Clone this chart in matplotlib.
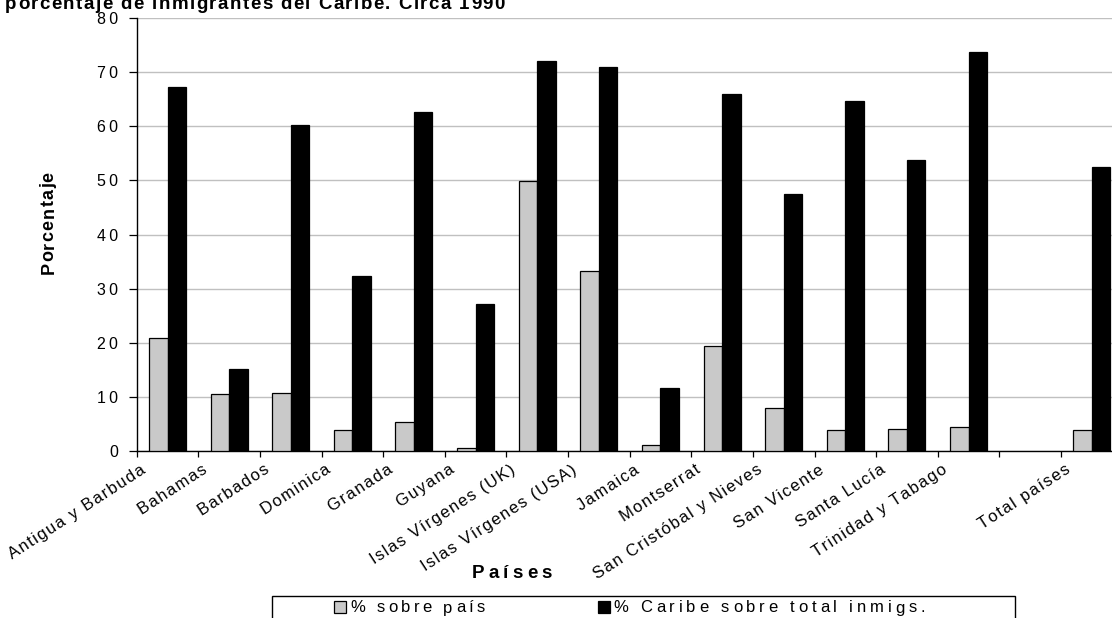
import numpy as np
import matplotlib
matplotlib.use("Agg")
import matplotlib.pyplot as plt
from matplotlib.transforms import ScaledTranslation
from matplotlib.patches import Rectangle
from matplotlib.font_manager import findfont, FontProperties
from matplotlib.ft2font import FT2Font

# ---- data -------------------------------------------------------------
categories = [
    "Antigua y Barbuda", "Bahamas", "Barbados", "Dominica", "Granada",
    "Guyana", "Islas Vírgenes (UK)", "Islas Vírgenes (USA)", "Jamaica",
    "Montserrat", "San Cristóbal y Nieves", "San Vicente", "Santa Lucía",
    "Trinidad y Tabago", "", "Total países",
]
pct_pais = [20.8, 10.5, 10.8, 3.8, 5.3, 0.5, 49.9, 33.2, 1.2,
            19.4, 7.9, 3.9, 4.1, 4.5, np.nan, 3.9]
pct_caribe = [67.2, 15.2, 60.3, 32.4, 62.6, 27.1, 72.1, 70.9, 11.6,
              65.9, 47.4, 64.7, 53.7, 73.7, np.nan, 52.4]
yticks = [0, 10, 20, 30, 40, 50, 60, 70, 80]
series_names = ["% sobre país", "% Caribe sobre total inmigs."]

title = "porcentaje de inmigrantes del Caribe. Circa 1990"
xlabel = "Países"
ylabel = "Porcentaje"

# ---- figure -----------------------------------------------------------
W, H, DPI = 1112, 618, 100
FAMILY = ["Liberation Sans", "DejaVu Sans"]
plt.rcParams["font.family"] = FAMILY

fig = plt.figure(figsize=(W / DPI, H / DPI), dpi=DPI)
fig.patch.set_facecolor("white")

left_px, right_px, top_px, bottom_px = 136.7, 1122.6, 18.0, 451.0
ax = fig.add_axes([left_px / W, 1 - bottom_px / H,
                   (right_px - left_px) / W, (bottom_px - top_px) / H])

n = len(categories)
x = np.arange(n)
ax.bar(x + 0.2, pct_pais, width=0.3, align="edge", color="#c9c9c9",
       edgecolor="black", linewidth=0.9, zorder=3)
ax.bar(x + 0.5, pct_caribe, width=0.3, align="edge", color="black",
       edgecolor="black", linewidth=0.9, zorder=3)

ax.set_xlim(0, n)
ax.set_ylim(0, 80)

# y axis
ax.set_yticks(yticks)
ax.set_yticklabels(["\u2009".join(str(v)) for v in yticks], fontsize=11.5)
ax.tick_params(axis="y", direction="out", length=5.5, width=0.9,
               pad=8, colors="black")
ax.yaxis.grid(True, color="#c0c0c0", linewidth=1.0, zorder=0)
ax.set_axisbelow(True)

# x axis: boundaries carry tick marks, centres carry the labels
ax.set_xticks(np.arange(n + 1))
ax.set_xticklabels([])
ax.tick_params(axis="x", which="major", direction="out", length=4.5,
               width=0.9)
ax.set_xticks(x + 0.5, minor=True)
ax.set_xticklabels(["\u200a".join(c) for c in categories], minor=True,
                   rotation=33, ha="right", va="top", fontsize=12)
ax.tick_params(axis="x", which="minor", length=0, pad=8)
shift = ScaledTranslation(-19 / DPI, 0, fig.dpi_scale_trans)
for lab in ax.get_xticklabels(minor=True):
    lab.set_transform(lab.get_transform() + shift)

for side in ("top", "right"):
    ax.spines[side].set_visible(False)
ax.spines["left"].set_linewidth(1.0)
ax.spines["bottom"].set_linewidth(1.0)


# ---- letter-spaced text helper ---------------------------------------
def advances(s, size, weight):
    try:
        path = findfont(FontProperties(family=FAMILY[0], weight=weight))
        font = FT2Font(path)
        font.set_size(size, DPI)
        out = []
        for ch in s:
            g = font.load_char(ord(ch))
            out.append(g.linearHoriAdvance / 65536.0)
        return out
    except Exception:
        return [0.55 * size * DPI / 72.0 for _ in s]


def tracked(x0, y0, s, size, weight="normal", width=None, tracking=0.0,
            rotation=0.0, ha="left"):
    """Draw s character by character; x0/y0 in pixels from the top-left."""
    adv = advances(s, size, weight)
    if width is not None and len(s) > 1:
        tracking = (width - sum(adv)) / (len(s) - 1)
    total = sum(adv) + tracking * (len(s) - 1)
    start = {"left": 0.0, "center": -total / 2, "right": -total}[ha]
    th = np.radians(rotation)
    dx, dy = np.cos(th), np.sin(th)
    pos = start
    for ch, a in zip(s, adv):
        px = x0 + pos * dx
        py = (H - y0) + pos * dy
        fig.text(px / W, py / H, ch, fontsize=size, fontweight=weight,
                 rotation=rotation, rotation_mode="anchor",
                 ha="left", va="baseline", color="black")
        pos += a + tracking


# title (partly above the top edge)
tracked(5, 9.0, title, 13.5, weight="bold", width=500)
# axis titles
tracked(512, 578, xlabel, 13.5, weight="bold", width=80, ha="center")
tracked(53.5, 223, ylabel, 13, weight="bold", width=103, rotation=90,
        ha="center")

# ---- legend -----------------------------------------------------------
fig.patches.append(Rectangle((272 / W, -0.05), (1015 - 272) / W,
                             (H - 596) / H + 0.05,
                             transform=fig.transFigure, fill=False,
                             edgecolor="black", linewidth=1.0))
fig.patches.append(Rectangle((334 / W, (H - 613) / H), 12 / W, 12 / H,
                             transform=fig.transFigure, facecolor="#c9c9c9",
                             edgecolor="black", linewidth=0.9))
tracked(350, 612.5, series_names[0], 12, width=135)
fig.patches.append(Rectangle((598 / W, (H - 613) / H), 12 / W, 12 / H,
                             transform=fig.transFigure, facecolor="black",
                             edgecolor="black", linewidth=0.9))
tracked(613, 612.5, series_names[1], 12, width=312)

fig.savefig("out.png", dpi=DPI)
